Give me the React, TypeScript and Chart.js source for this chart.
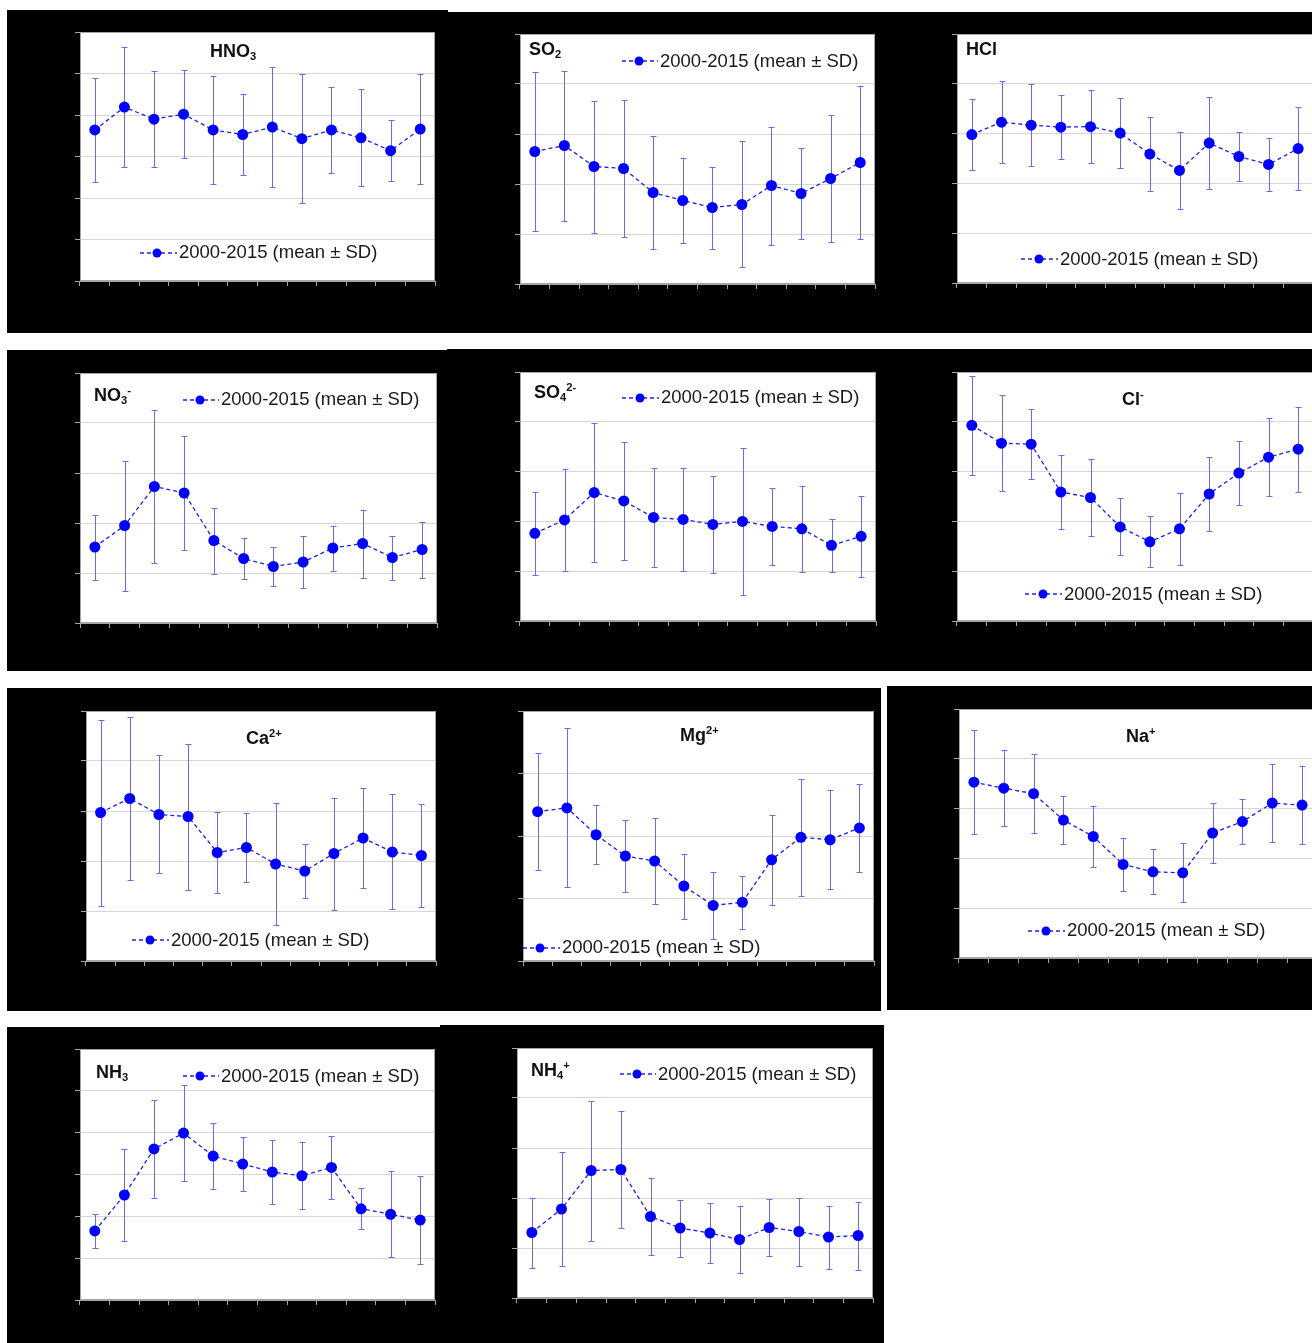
import React, { useEffect, useRef } from "react";
import { Chart, registerables } from "chart.js";

Chart.register(...registerables);

// ---------- data (y units are arbitrary: the axis labels are blacked out in the source) ----------
const MONTHS = ["Jan", "Feb", "Mar", "Apr", "May", "Jun", "Jul", "Aug", "Sep", "Oct", "Nov", "Dec"];

const HNO3_MEAN = [3.64, 4.19, 3.9, 4.02, 3.64, 3.53, 3.71, 3.43, 3.64, 3.45, 3.14, 3.66];
const HNO3_SD = [1.26, 1.44, 1.15, 1.06, 1.3, 0.97, 1.44, 1.56, 1.03, 1.17, 0.73, 1.33];

const SO2_MEAN = [2.65, 2.77, 2.35, 2.31, 1.83, 1.67, 1.53, 1.59, 1.97, 1.81, 2.11, 2.43];
const SO2_SD = [1.58, 1.5, 1.32, 1.37, 1.13, 0.85, 0.82, 1.26, 1.18, 0.9, 1.27, 1.53];

const HCL_MEAN = [2.98, 3.23, 3.17, 3.13, 3.14, 3.01, 2.59, 2.26, 2.81, 2.54, 2.38, 2.7];
const HCL_SD = [0.72, 0.82, 0.83, 0.64, 0.74, 0.71, 0.74, 0.77, 0.92, 0.5, 0.53, 0.83];

const NO3_MEAN = [1.52, 1.95, 2.73, 2.6, 1.65, 1.29, 1.13, 1.22, 1.5, 1.59, 1.31, 1.47];
const NO3_SD = [0.65, 1.3, 1.53, 1.14, 0.66, 0.41, 0.39, 0.52, 0.45, 0.68, 0.44, 0.56];

const SO4_MEAN = [1.76, 2.03, 2.58, 2.41, 2.08, 2.04, 1.94, 2.0, 1.9, 1.85, 1.52, 1.7];
const SO4_SD = [0.84, 1.02, 1.39, 1.19, 1.0, 1.03, 0.98, 1.47, 0.77, 0.87, 0.53, 0.81];

const CL_MEAN = [3.93, 3.57, 3.55, 2.59, 2.48, 1.89, 1.59, 1.85, 2.55, 2.97, 3.29, 3.45];
const CL_SD = [0.99, 0.96, 0.7, 0.75, 0.77, 0.57, 0.51, 0.73, 0.75, 0.64, 0.78, 0.85];

const CA_MEAN = [2.97, 3.25, 2.93, 2.89, 2.17, 2.27, 1.94, 1.8, 2.15, 2.46, 2.18, 2.11];
const CA_SD = [1.86, 1.64, 1.18, 1.46, 0.81, 0.69, 1.22, 0.54, 1.12, 1.0, 1.15, 1.03];

const MG_MEAN = [2.39, 2.45, 2.02, 1.68, 1.6, 1.2, 0.89, 0.94, 1.62, 1.98, 1.94, 2.13];
const MG_SD = [0.93, 1.27, 0.47, 0.57, 0.68, 0.52, 0.54, 0.42, 0.72, 0.94, 0.79, 0.7];

const NA_MEAN = [3.53, 3.41, 3.3, 2.77, 2.44, 1.88, 1.73, 1.71, 2.51, 2.74, 3.11, 3.07];
const NA_SD = [1.04, 0.76, 0.79, 0.49, 0.62, 0.53, 0.45, 0.59, 0.6, 0.45, 0.78, 0.79];

const NH3_MEAN = [1.65, 2.51, 3.61, 3.99, 3.44, 3.25, 3.06, 2.97, 3.17, 2.18, 2.05, 1.91];
const NH3_SD = [0.4, 1.1, 1.18, 1.15, 0.78, 0.64, 0.77, 0.8, 0.75, 0.49, 1.03, 1.05];

const NH4_MEAN = [1.31, 1.78, 2.55, 2.57, 1.63, 1.4, 1.3, 1.17, 1.41, 1.33, 1.22, 1.25];
const NH4_SD = [0.7, 1.14, 1.4, 1.17, 0.77, 0.57, 0.6, 0.67, 0.57, 0.68, 0.63, 0.68];

const LEGEND_LABEL = "2000-2015 (mean\u00a0± SD)";

// ---------- styles / layout ----------
const FONT = '"Liberation Sans", Arial, Helvetica, sans-serif';
const LINE_COLOR = "#1f1fe6";
const POINT_COLOR = "#0000ff";
const ERR_COLOR = "#6b6be8";
const GRID_COLOR = "#d6d6d6";
const FRAME_COLOR = "#a6a6a6";
const MARGIN = 10;
const TICK_LEN = 5;

const BLACK_BOXES: number[][] = [
  [7, 10, 448, 333],
  [447, 12, 1312, 333],
  [7, 350, 448, 671],
  [447, 349, 1312, 671],
  [7, 688, 881, 1011],
  [887, 686, 1312, 1010],
  [7, 1027, 448, 1343],
  [440, 1025, 884, 1343],
];

type TitlePart = { t: string; kind?: "sub" | "sup" };

type PanelSpec = {
  id: string;
  mean: number[];
  sd: number[];
  yMax: number;
  plot: number[]; // l, t, r, b
  title: TitlePart[];
  titleX: number;
  titleBase: number;
  legLine: number;
  legMarker: number;
  legText: number;
  legBase: number;
};

const PANELS: PanelSpec[] = [
  { id: "hno3", mean: HNO3_MEAN, sd: HNO3_SD, yMax: 6, plot: [80, 32, 435, 281],
    title: [{ t: "HNO" }, { t: "3", kind: "sub" }], titleX: 210, titleBase: 57,
    legLine: 140, legMarker: 157, legText: 179, legBase: 259 },
  { id: "so2", mean: SO2_MEAN, sd: SO2_SD, yMax: 5, plot: [520, 34, 875, 284],
    title: [{ t: "SO" }, { t: "2", kind: "sub" }], titleX: 529, titleBase: 55,
    legLine: 622, legMarker: 639, legText: 660, legBase: 67.5 },
  { id: "hcl", mean: HCL_MEAN, sd: HCL_SD, yMax: 5, plot: [957, 34, 1313, 283],
    title: [{ t: "HCl" }], titleX: 966, titleBase: 55,
    legLine: 1021, legMarker: 1039, legText: 1060, legBase: 265.5 },
  { id: "no3", mean: NO3_MEAN, sd: NO3_SD, yMax: 5, plot: [80, 373, 437, 623],
    title: [{ t: "NO" }, { t: "3", kind: "sub" }, { t: "-", kind: "sup" }], titleX: 94, titleBase: 401,
    legLine: 183, legMarker: 200, legText: 221, legBase: 406 },
  { id: "so4", mean: SO4_MEAN, sd: SO4_SD, yMax: 5, plot: [520, 372, 876, 621],
    title: [{ t: "SO" }, { t: "4", kind: "sub" }, { t: "2-", kind: "sup" }], titleX: 534, titleBase: 398,
    legLine: 622, legMarker: 640, legText: 661, legBase: 404 },
  { id: "cl", mean: CL_MEAN, sd: CL_SD, yMax: 5, plot: [957, 372, 1313, 621],
    title: [{ t: "Cl" }, { t: "-", kind: "sup" }], titleX: 1122, titleBase: 405,
    legLine: 1025, legMarker: 1043, legText: 1064, legBase: 600.5 },
  { id: "ca", mean: CA_MEAN, sd: CA_SD, yMax: 5, plot: [86, 711, 436, 961],
    title: [{ t: "Ca" }, { t: "2+", kind: "sup" }], titleX: 246, titleBase: 744,
    legLine: 132, legMarker: 150, legText: 171, legBase: 946.5 },
  { id: "mg", mean: MG_MEAN, sd: MG_SD, yMax: 4, plot: [523, 711, 874, 961],
    title: [{ t: "Mg" }, { t: "2+", kind: "sup" }], titleX: 680, titleBase: 741,
    legLine: 523, legMarker: 540, legText: 562, legBase: 954 },
  { id: "na", mean: NA_MEAN, sd: NA_SD, yMax: 5, plot: [959, 709, 1317, 958],
    title: [{ t: "Na" }, { t: "+", kind: "sup" }], titleX: 1126, titleBase: 742,
    legLine: 1028, legMarker: 1046, legText: 1067, legBase: 937 },
  { id: "nh3", mean: NH3_MEAN, sd: NH3_SD, yMax: 6, plot: [80, 1049, 435, 1300],
    title: [{ t: "NH" }, { t: "3", kind: "sub" }], titleX: 96, titleBase: 1078,
    legLine: 183, legMarker: 200, legText: 221, legBase: 1082.5 },
  { id: "nh4", mean: NH4_MEAN, sd: NH4_SD, yMax: 5, plot: [517, 1048, 873, 1298],
    title: [{ t: "NH" }, { t: "4", kind: "sub" }, { t: "+", kind: "sup" }], titleX: 531, titleBase: 1076,
    legLine: 620, legMarker: 637, legText: 658, legBase: 1080.5 },
];

// ---------- plugins ----------
const plotFrame = {
  id: "plotFrame",
  beforeDraw(chart: any) {
    const { ctx, chartArea: a } = chart;
    ctx.save();
    ctx.fillStyle = "#ffffff";
    ctx.fillRect(a.left, a.top, a.right - a.left, a.bottom - a.top);
    ctx.restore();
  },
  beforeDatasetsDraw(chart: any) {
    const { ctx, chartArea: a } = chart;
    ctx.save();
    ctx.strokeStyle = FRAME_COLOR;
    ctx.lineWidth = 1;
    ctx.strokeRect(Math.round(a.left) + 0.5, Math.round(a.top) + 0.5, Math.round(a.right - a.left) - 1, Math.round(a.bottom - a.top) - 1);
    ctx.restore();
  },
};

const errorBars = {
  id: "errorBars",
  beforeDatasetsDraw(chart: any) {
    const { ctx } = chart;
    const yScale = chart.scales.y;
    chart.data.datasets.forEach((ds: any, di: number) => {
      const meta = chart.getDatasetMeta(di);
      const sd: number[] = ds.sd || [];
      ctx.save();
      ctx.strokeStyle = ERR_COLOR;
      ctx.lineWidth = 1;
      meta.data.forEach((pt: any, i: number) => {
        const m = ds.data[i];
        const s = sd[i];
        if (m == null || s == null) return;
        const x = Math.round(pt.x) + 0.5;
        const yTop = Math.round(yScale.getPixelForValue(m + s)) + 0.5;
        const yBot = Math.round(yScale.getPixelForValue(m - s)) + 0.5;
        ctx.beginPath();
        ctx.moveTo(x, yTop);
        ctx.lineTo(x, yBot);
        ctx.moveTo(x - 3, yTop);
        ctx.lineTo(x + 3, yTop);
        ctx.moveTo(x - 3, yBot);
        ctx.lineTo(x + 3, yBot);
        ctx.stroke();
      });
      ctx.restore();
    });
  },
};

// ---------- components ----------
function PanelChart({ spec }: { spec: PanelSpec }) {
  const ref = useRef<HTMLCanvasElement | null>(null);
  const [l, t, r, b] = spec.plot;
  const w = r - l + 2 * MARGIN;
  const h = b - t + 2 * MARGIN;

  useEffect(() => {
    if (!ref.current) return;
    const chart = new Chart(ref.current, {
      type: "line",
      data: {
        labels: MONTHS,
        datasets: [
          {
            label: LEGEND_LABEL,
            data: spec.mean,
            sd: spec.sd,
            borderColor: LINE_COLOR,
            borderWidth: 1.3,
            borderDash: [4, 3],
            backgroundColor: POINT_COLOR,
            pointRadius: 5.5,
            pointBackgroundColor: POINT_COLOR,
            pointBorderColor: POINT_COLOR,
            pointBorderWidth: 0,
            tension: 0,
            fill: false,
            clip: false,
          } as any,
        ],
      },
      options: {
        responsive: false,
        maintainAspectRatio: false,
        animation: false,
        devicePixelRatio: 1,
        events: [],
        layout: {
          padding: { left: MARGIN - TICK_LEN, top: MARGIN, right: MARGIN, bottom: MARGIN - TICK_LEN },
        },
        plugins: {
          legend: { display: false },
          tooltip: { enabled: false },
          title: { display: false },
        },
        scales: {
          x: {
            type: "category",
            offset: true,
            ticks: { display: false },
            grid: {
              offset: true,
              drawOnChartArea: false,
              drawTicks: true,
              tickLength: TICK_LEN,
              tickColor: FRAME_COLOR,
              color: FRAME_COLOR,
            },
            border: { display: true, color: FRAME_COLOR },
          },
          y: {
            type: "linear",
            min: 0,
            max: spec.yMax,
            ticks: { display: false, stepSize: 1 },
            grid: {
              color: GRID_COLOR,
              drawTicks: true,
              tickLength: TICK_LEN,
              tickColor: FRAME_COLOR,
            },
            border: { display: true, color: FRAME_COLOR },
          },
        },
      },
      plugins: [plotFrame, errorBars],
    } as any);
    return () => chart.destroy();
  }, [spec]);

  return (
    <canvas
      ref={ref}
      width={w}
      height={h}
      style={{ position: "absolute", left: l - MARGIN, top: t - MARGIN, width: w, height: h }}
    />
  );
}

const TITLE_FS = 18;
const LEG_FS = 18.5;
const ASC = 0.8465;

function Title({ spec }: { spec: PanelSpec }) {
  return (
    <div
      style={{
        position: "absolute",
        left: spec.titleX,
        top: spec.titleBase - ASC * TITLE_FS,
        fontFamily: FONT,
        fontWeight: "bold",
        fontSize: TITLE_FS,
        lineHeight: 1,
        color: "#111",
        whiteSpace: "nowrap",
      }}
    >
      {spec.title.map((p, i) =>
        p.kind === "sub" ? (
          <sub key={i} style={{ fontSize: "0.62em", verticalAlign: "baseline", position: "relative", top: "0.3em" }}>
            {p.t}
          </sub>
        ) : p.kind === "sup" ? (
          <sup key={i} style={{ fontSize: "0.62em", verticalAlign: "baseline", position: "relative", top: "-0.6em" }}>
            {p.t}
          </sup>
        ) : (
          <span key={i}>{p.t}</span>
        )
      )}
    </div>
  );
}

function Legend({ spec }: { spec: PanelSpec }) {
  const sw = spec.legText - spec.legLine - 2;
  const cy = spec.legBase - 6.5;
  return (
    <>
      <svg
        width={sw}
        height={12}
        style={{ position: "absolute", left: spec.legLine, top: cy - 6, overflow: "visible" }}
      >
        <line x1={0} y1={6} x2={sw} y2={6} stroke={LINE_COLOR} strokeWidth={1.3} strokeDasharray="4 3" />
        <circle cx={spec.legMarker - spec.legLine} cy={6} r={4.5} fill={POINT_COLOR} />
      </svg>
      <div
        style={{
          position: "absolute",
          left: spec.legText,
          top: spec.legBase - ASC * LEG_FS,
          fontFamily: FONT,
          fontSize: LEG_FS,
          lineHeight: 1,
          color: "#1a1a1a",
          whiteSpace: "nowrap",
        }}
      >
        {LEGEND_LABEL}
      </div>
    </>
  );
}

export default function App() {
  return (
    <div
      style={{
        position: "absolute",
        left: 0,
        top: 0,
        width: 1312,
        height: 1343,
        overflow: "hidden",
        background: "#ffffff",
      }}
    >
      {BLACK_BOXES.map((bx, i) => (
        <div
          key={i}
          style={{
            position: "absolute",
            left: bx[0],
            top: bx[1],
            width: bx[2] - bx[0],
            height: bx[3] - bx[1],
            background: "#000",
          }}
        />
      ))}
      {PANELS.map((p) => (
        <PanelChart key={p.id} spec={p} />
      ))}
      {PANELS.map((p) => (
        <React.Fragment key={p.id + "-ov"}>
          <Title spec={p} />
          <Legend spec={p} />
        </React.Fragment>
      ))}
    </div>
  );
}
